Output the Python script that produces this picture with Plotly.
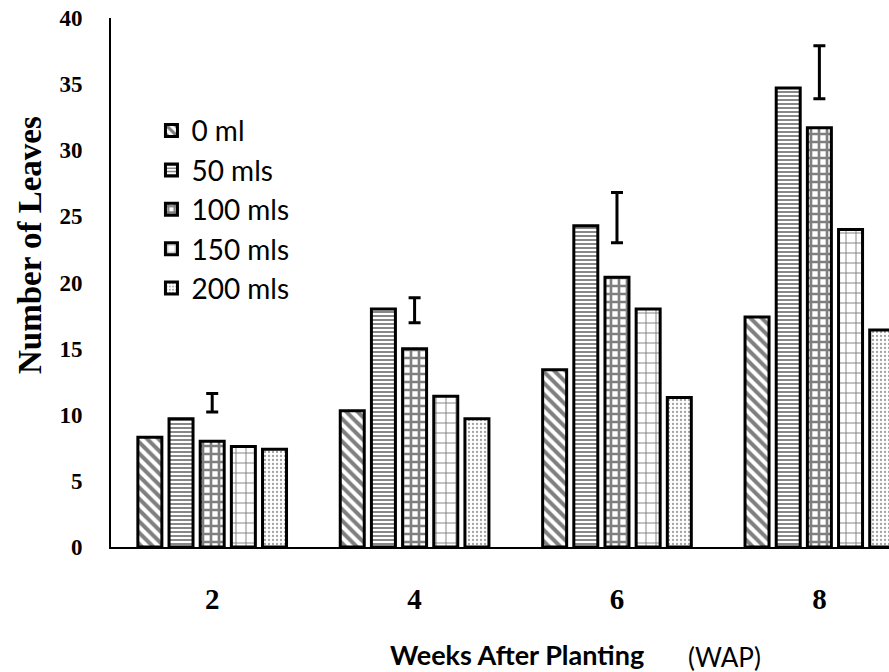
import plotly.graph_objects as go

categories = ["2", "4", "6", "8"]
series_names = ["0 ml", "50 mls", "100 mls", "150 mls", "200 mls"]
ml0 = [8.3, 10.3, 13.4, 17.4]
ml50 = [9.7, 18.0, 24.3, 34.7]
ml100 = [8.0, 15.0, 20.4, 31.7]
ml150 = [7.6, 11.4, 18.0, 24.0]
ml200 = [7.4, 9.7, 11.3, 16.4]
err_center = [10.9, 17.9, 24.9, 35.9]
err_half = [0.7, 0.95, 1.9, 2.0]
y_ticks = [0, 5, 10, 15, 20, 25, 30, 35, 40]

series_values = [ml0, ml50, ml100, ml150, ml200]
patterns = [
    dict(shape="\\", fgcolor="black", bgcolor="white", size=8, solidity=0.5),
    dict(shape="-", fgcolor="#111111", bgcolor="white", size=4, solidity=0.5),
    dict(shape="+", fgcolor="black", bgcolor="white", size=8, solidity=0.55),
    dict(shape="+", fgcolor="black", bgcolor="white", size=10, solidity=0.18),
    dict(shape=".", fgcolor="#444444", bgcolor="white", size=4, solidity=0.25),
]

fig = go.Figure()
for name, vals, pat in zip(series_names, series_values, patterns):
    fig.add_trace(go.Bar(
        x=categories, y=vals, name=name,
        marker=dict(color="white", line=dict(color="black", width=3), pattern=pat),
    ))

fig.add_trace(go.Scatter(
    x=categories, y=err_center, mode="markers", showlegend=False,
    marker=dict(size=1, color="rgba(0,0,0,0)"),
    error_y=dict(type="data", array=err_half, color="black", thickness=3, width=6),
    hoverinfo="skip",
))

serif_bold = dict(family="Liberation Serif, Times New Roman, serif", color="black", weight="bold")

fig.update_layout(
    width=889, height=672,
    margin=dict(l=111, r=0, t=18, b=125),
    paper_bgcolor="white", plot_bgcolor="white",
    barmode="group", bargap=0.23, bargroupgap=0.23,
    showlegend=True,
    legend=dict(x=0.052, y=0.834, xanchor="left", yanchor="top",
                font=dict(family="Lato, sans-serif", size=28, color="black"),
                bgcolor="rgba(0,0,0,0)", borderwidth=0),
    xaxis=dict(type="category", range=[-0.5, 3.344], showline=True, linecolor="black",
               linewidth=2, ticks="", showgrid=False, zeroline=False,
               tickfont=dict(size=29, **serif_bold), ticklabelstandoff=25),
    yaxis=dict(range=[0, 40], tickvals=y_ticks, showline=True, linecolor="black",
               linewidth=2, ticks="", showgrid=False, zeroline=False,
               tickfont=dict(size=23, **serif_bold), ticklabelstandoff=22),
    annotations=[
        dict(text="Number of Leaves", xref="paper", yref="paper", x=-0.104, y=0.571,
             xanchor="center", yanchor="middle",
             textangle=-90, showarrow=False, font=dict(size=33, **serif_bold)),
        dict(text="Weeks After Planting", xref="paper", yref="paper", x=0.522, y=-0.204,
             xanchor="center", yanchor="middle",
             showarrow=False, font=dict(family="Lato, sans-serif", size=27, color="black", weight="bold")),
        dict(text="(WAP)", xref="paper", yref="paper", x=0.789, y=-0.208,
             xanchor="center", yanchor="middle",
             showarrow=False, font=dict(family="Lato, sans-serif", size=26, color="black")),
    ],
)

fig.write_html("out.html")
